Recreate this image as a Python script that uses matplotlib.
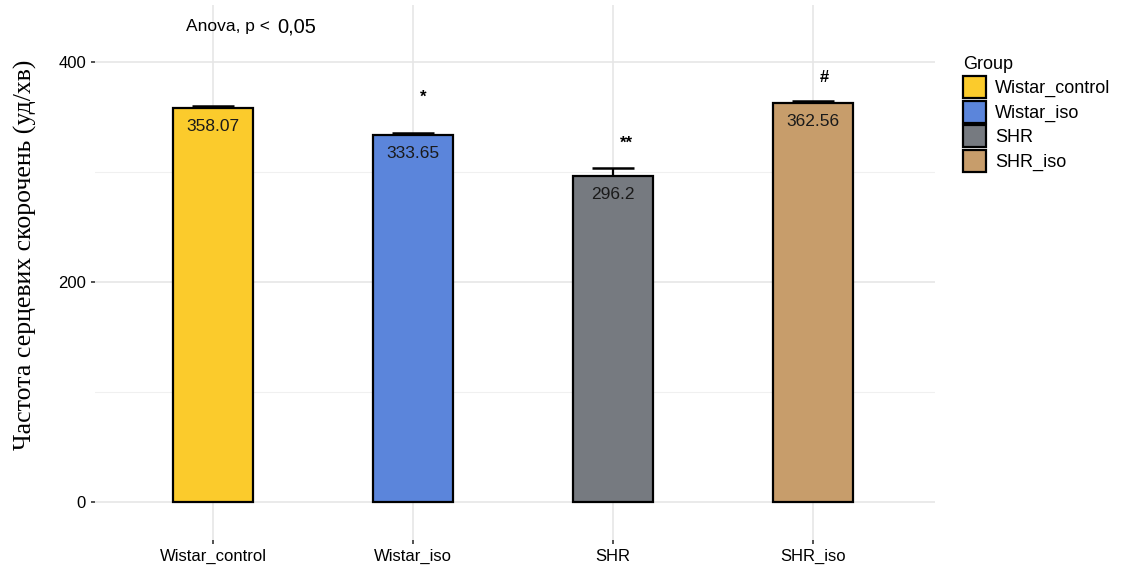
import matplotlib.pyplot as plt
import numpy as np

# heart rate by group, mean and error
groups = ['Wistar_control', 'Wistar_iso', 'SHR', 'SHR_iso']
means = [358.07, 333.65, 296.2, 362.56]
errors = [2.0, 1.5, 8.0, 2.0]
marks = ['', '*', '**', '#']
mark_heights = [0, 368, 326, 386]
colors = ['#FBCB2C', '#5B85DB', '#767A80', '#C79D6B']

plt.rcParams['font.family'] = ['Liberation Sans', 'DejaVu Sans']

fig = plt.figure(figsize=(11.24, 5.66), dpi=100)
ax = fig.add_axes([95 / 1124, 26 / 566, 840 / 1124, 535 / 566])

x = np.arange(len(groups))
ax.bar(x, means, width=0.4, color=colors, edgecolor='black', linewidth=1.6, zorder=3)
ax.errorbar(x, means, yerr=[np.zeros(len(errors)), errors], fmt='none', ecolor='black',
            elinewidth=1.6, capsize=15, capthick=1.8, zorder=2)

for xi, m in zip(x, means):
    ax.annotate(f'{m:g}', (xi, m), xytext=(0, -8), textcoords='offset points',
                ha='center', va='top', fontsize=12.5, color='#1a1a1a')

for xi, s, h in zip(x, marks, mark_heights):
    if s:
        ax.text(xi + 0.035, h, s, ha='left', va='center', fontsize=12, fontweight='bold')

ax.text(0.285, 432, 'Anova, p <', ha='right', va='center', fontsize=12.5)
ax.text(0.32, 432, '0,05', ha='left', va='center', fontsize=14.5)

ax.set_xlim(-0.59, 3.61)
ax.set_ylim(-34.5, 452)
ax.set_yticks([0, 200, 400])
ax.set_yticks([100, 300], minor=True)
ax.set_xticks(x)
ax.set_xticklabels(groups, fontsize=12)
ax.tick_params(axis='both', length=3, width=1.2, color='#333333', labelsize=12,
               labelcolor='black')
ax.tick_params(axis='y', which='minor', length=0)
ax.grid(True, which='major', color='#e6e6e6', linewidth=1.2, zorder=0)
ax.grid(True, which='minor', axis='y', color='#f0f0f0', linewidth=0.8, zorder=0)
ax.set_axisbelow(True)
for sp in ax.spines.values():
    sp.set_visible(False)

fig.text(25 / 1124, 1 - 255 / 566, 'Частота серцевих скорочень (уд/хв)',
         family='Liberation Serif', fontsize=18.5, rotation=90, ha='center', va='center')

handles = [plt.Rectangle((0, 0), 1, 1, facecolor=c, edgecolor='black', linewidth=1.6)
           for c in colors]
leg = fig.legend(handles, groups, title='Group', loc='upper left',
                 bbox_to_anchor=(947 / 1124, 1 - 40 / 566), frameon=False,
                 fontsize=13, title_fontsize=13, handlelength=1.25, handleheight=1.5,
                 handletextpad=0.5, labelspacing=0.15)
leg._legend_box.align = 'left'

fig.savefig('out.png', dpi=100)
